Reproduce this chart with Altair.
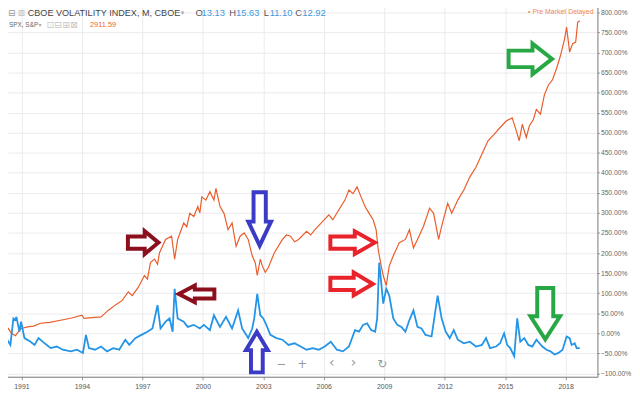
import altair as alt
import pandas as pd

# ---------------- data ----------------
spx_t = [1990.04, 1990.2, 1990.35, 1990.5, 1990.7, 1990.85, 1991.0, 1991.3, 1991.6, 1991.95,
         1992.4, 1993.0, 1993.5, 1994.0, 1994.1, 1994.5, 1994.95, 1995.3, 1995.7, 1996.0,
         1996.3, 1996.5, 1996.8, 1997.1, 1997.25, 1997.4, 1997.6, 1997.75, 1997.85, 1998.15,
         1998.45, 1998.6, 1998.75, 1999.05, 1999.2, 1999.35, 1999.55, 1999.75, 1999.85, 1999.95,
         2000.15, 2000.35, 2000.55, 2000.65, 2000.85, 2001.05, 2001.25, 2001.45, 2001.65, 2001.85,
         2002.05, 2002.25, 2002.45, 2002.6, 2002.7, 2002.85, 2002.95, 2003.1, 2003.25, 2003.55,
         2003.95, 2004.15, 2004.35, 2004.55, 2004.75, 2005.15, 2005.35, 2005.55, 2005.95, 2006.25,
         2006.45, 2006.75, 2007.05, 2007.25, 2007.45, 2007.65, 2007.85, 2008.05, 2008.25, 2008.45,
         2008.6, 2008.7, 2008.85, 2008.95, 2009.1, 2009.25, 2009.45, 2009.75, 2010.05, 2010.25,
         2010.45, 2010.65, 2010.95, 2011.25, 2011.45, 2011.7, 2011.85, 2012.15, 2012.35, 2012.65,
         2012.95, 2013.25, 2013.55, 2013.85, 2014.15, 2014.45, 2014.75, 2015.05, 2015.35, 2015.55,
         2015.7, 2015.85, 2016.05, 2016.2, 2016.4, 2016.55, 2016.75, 2016.95, 2017.15, 2017.35,
         2017.55, 2017.75, 2017.95, 2018.05, 2018.2, 2018.35, 2018.5, 2018.6, 2018.7]
spx_v = [4, 4, 12, 0, -6, 4, 12, 16, 18, 25,
         27, 33, 38, 45, 37, 39, 41, 57, 72, 82,
         103, 94, 115, 144, 135, 176, 185, 172, 201, 234,
         242, 185, 234, 275, 265, 299, 291, 316, 300, 340,
         332, 353, 332, 361, 316, 299, 258, 275, 217, 242,
         250, 234, 193, 176, 144, 185, 168, 152, 164, 201,
         234, 245, 242, 228, 234, 254, 245, 258, 279, 295,
         283, 308, 332, 357, 348, 365, 340, 316, 299, 283,
         258, 209, 168, 144, 119, 168, 193, 226, 234, 258,
         213, 234, 267, 312, 299, 234, 267, 324, 299, 332,
         357, 390, 414, 447, 480, 496, 513, 529, 537, 505,
         480, 521, 488, 517, 533, 558, 546, 595, 619, 632,
         660, 693, 734, 763, 701, 722, 726, 775, 779]

vix_t = [1990.04, 1990.2, 1990.45, 1990.6, 1990.7, 1990.75, 1990.9, 1990.98, 1991.15, 1991.45,
         1991.65, 1991.85, 1992.15, 1992.45, 1992.75, 1993.05, 1993.45, 1993.75, 1994.05, 1994.2,
         1994.35, 1994.65, 1994.95, 1995.25, 1995.55, 1995.85, 1996.15, 1996.35, 1996.65, 1996.95,
         1997.25, 1997.5, 1997.75, 1997.9, 1998.15, 1998.35, 1998.5, 1998.6, 1998.75, 1999.05,
         1999.25, 1999.55, 1999.85, 2000.05, 2000.35, 2000.55, 2000.85, 2001.15, 2001.45, 2001.75,
         2001.95, 2002.25, 2002.45, 2002.55, 2002.7, 2002.85, 2003.0, 2003.15, 2003.35, 2003.65,
         2003.95, 2004.25, 2004.55, 2004.85, 2005.15, 2005.45, 2005.75, 2006.05, 2006.35, 2006.65,
         2006.95, 2007.25, 2007.55, 2007.75, 2007.95, 2008.15, 2008.35, 2008.55, 2008.65, 2008.75,
         2008.85, 2008.95, 2009.1, 2009.25, 2009.45, 2009.65, 2009.85, 2010.05, 2010.25, 2010.45,
         2010.65, 2010.85, 2011.05, 2011.35, 2011.65, 2011.85, 2012.05, 2012.25, 2012.45, 2012.65,
         2012.95, 2013.25, 2013.55, 2013.85, 2014.05, 2014.25, 2014.55, 2014.75, 2014.95, 2015.1,
         2015.25, 2015.45, 2015.6, 2015.75, 2015.95, 2016.15, 2016.35, 2016.55, 2016.85, 2017.05,
         2017.25, 2017.45, 2017.65, 2017.85, 2018.05, 2018.2, 2018.3, 2018.45, 2018.55, 2018.7]
vix_v = [4, -8, -29, 37, 33, 41, 4, 29, -12, -21,
         -29, -12, -25, -37, -33, -41, -45, -41, -49, -4,
         -37, -41, -33, -45, -37, -41, -16, -29, -12, -4,
         4, 12, 70, 12, 29, 37, 4, 111, 37, 29,
         16, 21, 12, 21, 8, 45, 16, 41, 12, 57,
         12, -12, 12, 37, 98, 45, 37, 21, -4, -12,
         -16, -29, -25, -33, -41, -37, -41, -33, -21, -41,
         -45, -33, 8, 4, 21, 25, 8, 4, 37, 176,
         127, 74, 111, 94, 37, 21, 16, 4, 33, 57,
         16, 12, -4, -8, 94, 37, 4, -12, 8, -16,
         -25, -21, -33, -29, -12, -37, -33, -25, 0, -29,
         -37, -57, 37, -21, -12, -29, -33, -16, -33, -41,
         -45, -53, -49, -41, -8, -12, -29, -25, -37, -37]

year_ticks = [1991, 1994, 1997, 2000, 2003, 2006, 2009, 2012, 2015, 2018]
pct_ticks = list(range(-100, 801, 50))

# annotation arrows (centre in data units, direction, colour)
arrow_year = [1997.04, 1999.69, 2002.82, 2002.68, 2007.43, 2007.38, 2016.25, 2016.99]
arrow_pct = [226, 98, 285, -47, 226, 123, 684, 49]
arrow_dir = ["right", "left", "down", "up", "right", "right", "right", "down"]
arrow_color = ["#8c0f1e", "#8c0f1e", "#3b3bc6", "#3b3bc6", "#e8232b", "#e8232b", "#27a845", "#27a845"]
arrow_len = [35, 40, 58, 45, 49, 47, 48, 56]
arrow_wid = [27, 21, 27, 26, 27, 27, 35, 34]


def arrow_path(L, W, d):
    L, W = L - 4, W - 4
    sh, hl = 0.27 * W, 0.45 * L
    pts = [(-L / 2, -sh), (L / 2 - hl, -sh), (L / 2 - hl, -W / 2), (L / 2, 0),
           (L / 2 - hl, W / 2), (L / 2 - hl, sh), (-L / 2, sh)]
    s = max(L, W) / 2
    out = []
    for u, v in pts:
        if d == "right":
            x, y = u, v
        elif d == "left":
            x, y = -u, v
        elif d == "down":
            x, y = v, u
        else:
            x, y = v, -u
        out.append(f"{x / s:.3f},{y / s:.3f}")
    return "M" + "L".join(out) + "Z", max(L, W) ** 2


paths, sizes = zip(*[arrow_path(l, w, d) for l, w, d in zip(arrow_len, arrow_wid, arrow_dir)])
arrows = pd.DataFrame({"t": arrow_year, "v": arrow_pct, "path": paths, "size": sizes, "c": arrow_color})

spx = pd.DataFrame({"t": spx_t, "v": spx_v})
vix = pd.DataFrame({"t": vix_t, "v": vix_v})

W, H = 605, 379
xs = alt.Scale(domain=[1989.94, 2019.58], nice=False, zero=False)
ys = alt.Scale(domain=[-108.3, 824.5], nice=False, zero=False)

xax = alt.Axis(values=year_ticks, format="d", title=None, grid=True, gridColor="#ebebef",
               domainColor="#777", tickColor="#999", tickSize=3, labelFontSize=7,
               labelColor="#555", labelFont="Liberation Sans", labelPadding=3)
yax = alt.Axis(values=pct_ticks, orient="right", title=None, grid=True, gridColor="#ebebef",
               domainColor="#777", tickColor="#999", tickSize=2, labelFontSize=6.8,
               labelColor="#666", labelFont="Liberation Sans", labelPadding=1,
               labelExpr="format(datum.value, '.2f') + '%'")

X = alt.X("t:Q", scale=xs, axis=xax)
Y = alt.Y("v:Q", scale=ys, axis=yax)

spx_line = alt.Chart(spx).mark_line(color="#ea5d2a", strokeWidth=1.2).encode(x=X, y=Y)
vix_line = alt.Chart(vix).mark_line(color="#2394e6", strokeWidth=1.8).encode(x=X, y=Y)

arrow_layer = alt.Chart(arrows).mark_point(fill="white", fillOpacity=1, opacity=1, strokeWidth=4,
                                           strokeJoin="miter").encode(
    x=X, y=Y,
    shape=alt.Shape("path:N", scale=None),
    size=alt.Size("size:Q", scale=None),
    stroke=alt.Stroke("c:N", scale=None),
)


def txt(s, x, y, size=9, color="#444", font="Liberation Sans", weight="normal", align="left"):
    return alt.Chart(pd.DataFrame({"s": [s]})).mark_text(
        align=align, baseline="middle", fontSize=size, color=color, font=font, fontWeight=weight
    ).encode(text="s:N", x=alt.value(x), y=alt.value(y))


header = [
    txt("⊟", 8, 11, 9, "#999", "DejaVu Sans"),
    txt("▥", 18, 11, 8, "#bbb", "DejaVu Sans"),
    txt("CBOE VOLATILITY INDEX, M, CBOE", 28, 11, 9.2, "#444"),
    txt("▾", 183, 11, 7, "#aaa", "DejaVu Sans"),
    txt("O", 198, 11, 9.5, "#555"),
    txt("13.13", 204, 11, 9.5, "#3d9be0"),
    txt("H", 232, 11, 9.5, "#555"),
    txt("15.63", 239, 11, 9.5, "#3d9be0"),
    txt("L", 267, 11, 9.5, "#555"),
    txt("11.10", 273, 11, 9.5, "#3d9be0"),
    txt("C", 299, 11, 9.5, "#555"),
    txt("12.92", 306, 11, 9.5, "#3d9be0"),
    txt("SPX, S&P", 9, 23, 6.5, "#666"),
    txt("▾", 39, 23, 6, "#aaa", "DejaVu Sans"),
    txt("⊡⊟⊞⊠", 47, 23, 9.5, "#c8c8c8", "DejaVu Sans"),
    txt("2911.59", 91, 23, 7.5, "#e8683a"),
    txt("• Pre Market  Delayed", 601, 10, 7, "#f08a55", align="right"),
    txt("−", 285, 366, 12, "#999", "DejaVu Sans", align="center"),
    txt("+", 306, 366, 12, "#999", "DejaVu Sans", align="center"),
    txt("‹", 336, 365, 14, "#999", "DejaVu Sans", align="center"),
    txt("›", 358, 365, 14, "#999", "DejaVu Sans", align="center"),
    txt("↻", 387, 366, 12, "#999", "DejaVu Sans", align="center"),
]

chart = alt.layer(spx_line, vix_line, arrow_layer, *header).properties(
    width=W, height=H,
    autosize=alt.AutoSizeParams(type="none"),
    padding={"left": -8, "top": -8, "right": 35, "bottom": 12},
    background="white",
).configure_view(stroke=None)

chart.save("out.html", embed_options={"renderer": "svg", "actions": False})
